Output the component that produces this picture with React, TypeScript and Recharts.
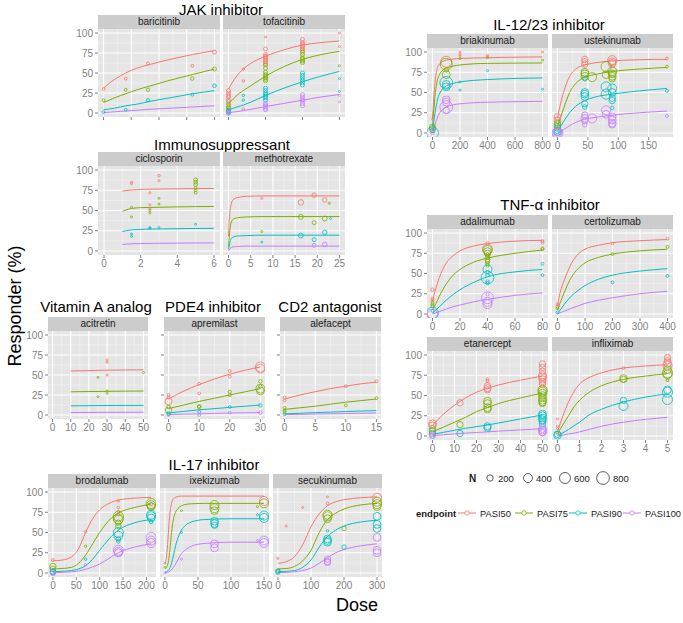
import React from 'react';
import { ComposedChart, Line, Scatter, XAxis, YAxis, CartesianGrid, ReferenceLine } from 'recharts';

const FONT = '"Liberation Sans", Arial, Helvetica, sans-serif';
const COLORS = ['#F8766D', '#7CAE00', '#00BFC4', '#C77CFF'];
const ENDPOINTS = ['PASI50', 'PASI75', 'PASI90', 'PASI100'];
const Y_TICKS = [0, 25, 50, 75, 100];
const Y_MINOR = [12.5, 37.5, 62.5, 87.5];
const N_LEGEND = [200, 400, 600, 800];

// ---------- baricitinib ----------
const bariDose = [0, 0.5, 1, 2, 3, 4, 6, 8, 10];
const bariP50 = [31, 37, 42, 50, 56, 60, 67, 73, 78];
const bariP75 = [13, 16, 19, 24, 29, 33, 41, 48, 55];
const bariP90 = [4, 5, 6, 9, 11, 14, 19, 24, 28];
const bariP100 = [0.5, 1, 1.5, 2.5, 3.5, 4.5, 6, 7.5, 9];
const bariPts = [
  [0, 30, 40, 0], [2, 43, 40, 0], [4, 62, 40, 0], [8, 59, 40, 0], [10, 76, 80, 0],
  [0, 16, 40, 1], [2, 29, 40, 1], [4, 29, 60, 1], [8, 43, 60, 1], [10, 55, 80, 1],
  [0, 1, 40, 2], [2, 4, 40, 2], [4, 16, 60, 2], [8, 23, 40, 2], [10, 34, 70, 2],
];
const bariTicks = [0, 2.5, 5, 7.5, 10];

// ---------- tofacitinib ----------
const tofaDose = [0, 0.5, 1, 2, 3, 5, 7.5, 10, 12.5, 15];
const tofaP50 = [30, 38, 45, 55, 62, 71, 79, 85, 88, 90];
const tofaP75 = [12, 16, 21, 28, 34, 46, 58, 67, 73, 77];
const tofaP90 = [4, 5.5, 7, 10, 13.5, 22, 31, 39, 46, 52];
const tofaP100 = [0, 1, 1.5, 3, 4.5, 8, 12, 16, 20, 23];
const tofaPts = [
  [0, 28, 80, 0], [0, 25, 80, 0], [0, 22, 80, 0], [0, 20, 80, 0], [0, 16, 80, 0], [0, 14, 80, 0],
  [0, 11, 80, 1], [0, 8, 80, 1], [0, 6, 80, 1], [0, 4, 80, 1],
  [0, 3, 80, 2], [0, 2, 80, 2], [0, 1, 80, 2], [0, 0, 80, 2], [0, 1, 80, 3], [0, 0, 80, 3],
  [2, 55, 30, 0], [2, 40, 30, 0], [2, 22, 30, 2], [2, 16, 30, 2], [2, 5, 30, 3],
  [5, 95, 20, 0], [5, 80, 80, 0], [5, 73, 80, 0], [5, 71, 80, 0], [5, 70, 80, 0], [5, 68, 80, 0], [5, 66, 80, 0], [5, 64, 80, 0], [5, 62, 80, 0],
  [5, 60, 80, 1], [5, 56, 80, 1], [5, 51, 80, 1], [5, 48, 80, 1], [5, 46, 80, 1], [5, 44, 80, 1], [5, 42, 80, 1], [5, 40, 80, 1],
  [5, 31, 80, 2], [5, 28, 80, 2], [5, 25, 80, 2], [5, 23, 80, 2], [5, 21, 80, 2], [5, 19, 80, 2], [5, 16, 80, 2],
  [5, 12, 80, 3], [5, 10, 80, 3], [5, 8, 80, 3], [5, 6, 80, 3], [5, 4, 80, 3],
  [10, 92, 80, 0], [10, 88, 80, 0], [10, 86, 80, 0], [10, 84, 80, 0], [10, 82, 80, 0], [10, 80, 80, 0], [10, 78, 80, 0],
  [10, 76, 80, 1], [10, 73, 80, 1], [10, 69, 80, 1], [10, 67, 80, 1], [10, 65, 80, 1], [10, 63, 80, 1],
  [10, 50, 80, 2], [10, 47, 80, 2], [10, 44, 80, 2], [10, 41, 80, 2], [10, 38, 80, 2], [10, 35, 80, 2],
  [10, 23, 80, 3], [10, 20, 80, 3], [10, 17, 80, 3], [10, 15, 80, 3], [10, 12, 80, 3], [10, 9, 80, 3],
  [15, 100, 20, 0], [15, 83, 20, 0], [15, 59, 20, 1], [15, 43, 20, 2], [15, 27, 20, 2], [15, 22, 20, 3], [15, 14, 20, 3],
];
const tofaTicks = [0, 5, 10, 15];

// ---------- ciclosporin ----------
const cicDose = [1, 1.25, 1.5, 2, 3, 4, 5, 6];
const cicP50 = [74, 74.8, 75.3, 76, 76.5, 76.8, 77, 77.2];
const cicP75 = [49, 51, 52.5, 53.5, 54, 54.5, 54.8, 55];
const cicP90 = [24, 25.2, 26, 26.7, 27.2, 27.5, 27.8, 28];
const cicP100 = [8, 8.5, 8.8, 9.2, 9.5, 9.7, 9.9, 10];
const cicPts = [
  [1.5, 85, 20, 0], [1.5, 83, 20, 0], [1.5, 54, 20, 1], [1.5, 42, 20, 1], [1.5, 21, 20, 2], [1.5, 18, 20, 2],
  [2.5, 72, 20, 0], [2.5, 57, 20, 0], [2.5, 52, 20, 0], [2.5, 50, 20, 1], [2.5, 47, 20, 1], [2.5, 29, 20, 2], [2.5, 28, 20, 2],
  [3, 93, 30, 0], [3, 87, 20, 0], [3, 65, 20, 1], [3, 58, 20, 1], [3, 29, 20, 2],
  [5, 88, 70, 1], [5, 85, 70, 1], [5, 82, 70, 1], [5, 78, 40, 1], [5, 75, 40, 1], [5, 72, 40, 1], [5, 33, 20, 2],
];
const cicTicks = [0, 2, 4, 6];

// ---------- methotrexate ----------
const mtxDose = [0, 0.1, 0.25, 0.5, 1, 2, 4, 8, 15, 25];
const mtxP50 = [18, 32, 45, 56, 63, 66, 67.5, 68, 68, 68];
const mtxP75 = [5, 13, 23, 33, 39, 41, 42, 42.5, 42.5, 42.5];
const mtxP90 = [2, 5, 9, 14, 17, 18.5, 19, 19.5, 19.5, 19.5];
const mtxP100 = [0, 1, 2.5, 4, 5, 5.5, 6, 6, 6, 6];
const mtxPts = [
  [7.5, 65, 20, 0], [7.5, 24, 20, 1], [7.5, 11, 20, 2],
  [16.3, 60, 150, 0], [16.3, 42, 120, 1], [16.3, 19, 120, 2],
  [19.3, 69, 100, 0], [19.3, 35, 80, 1], [19.3, 14, 80, 2], [19.3, 7, 80, 3],
  [21.7, 63, 100, 0], [21.7, 40, 120, 1], [21.7, 23, 100, 2], [21.7, 8, 100, 3],
  [22.7, 59, 25, 1], [23, 40, 20, 2],
];
const mtxTicks = [0, 5, 10, 15, 20, 25];

// ---------- acitretin ----------
const aciDose = [10, 20, 30, 40, 50];
const aciP50 = [55, 55.5, 56, 56.3, 56.5];
const aciP75 = [29, 29.3, 29.6, 29.8, 30];
const aciP90 = [11.5, 11.7, 11.9, 12, 12];
const aciP100 = [3, 3.2, 3.3, 3.4, 3.5];
const aciPts = [
  [25, 47, 20, 1], [25, 23, 20, 1], [30, 69, 20, 0], [30, 66, 20, 0], [30, 50, 20, 0],
  [30, 30, 20, 1], [30, 27, 20, 1], [50, 53, 20, 1],
];
const aciTicks = [0, 10, 20, 30, 40, 50];

// ---------- apremilast ----------
const aprDose = [0, 5, 10, 15, 20, 25, 30];
const aprP50 = [20, 30, 38, 45, 51, 56, 60];
const aprP75 = [8, 12.5, 17, 21, 25, 29, 33];
const aprP90 = [2.5, 4.5, 6.5, 8, 9.5, 11, 12.5];
const aprP100 = [0.5, 1, 1.5, 2, 2.5, 2.8, 3];
const aprPts = [
  [0, 25, 40, 0], [0, 22, 40, 0], [0, 17, 250, 0], [0, 10, 60, 1], [0, 6, 200, 1], [0, 2, 60, 2], [0, 1, 40, 2], [0, 0, 40, 3],
  [10, 39, 40, 0], [10, 27, 40, 0], [10, 11, 60, 1], [10, 10, 60, 1], [10, 4, 40, 2], [10, 0, 40, 3],
  [20, 55, 40, 0], [20, 48, 40, 0], [20, 29, 50, 1], [20, 25, 50, 1], [20, 10, 40, 2], [20, 3, 40, 3],
  [30, 60, 500, 0], [30, 58, 400, 0], [30, 42, 60, 1], [30, 36, 60, 1], [30, 33, 400, 1], [30, 30, 300, 1], [30, 12, 60, 2], [30, 3, 60, 3],
];
const aprTicks = [0, 10, 20, 30];

// ---------- alefacept ----------
const aleDose = [0, 2.5, 5, 7.5, 10, 12.5, 15];
const aleP50 = [20, 25, 29, 33, 36, 39, 41];
const aleP75 = [7, 9, 11, 13.5, 16, 18, 20];
const aleP90 = [1.5, 2.2, 3, 3.6, 4.3, 5, 5.5];
const aleP100 = [0.5, 0.8, 1.2, 1.5, 1.8, 2.2, 2.5];
const alePts = [
  [0, 22, 40, 0], [0, 18, 40, 0], [0, 9, 40, 1], [0, 6, 40, 1], [0, 4, 40, 1], [0, 1, 40, 2],
  [10, 36, 40, 0], [10, 12, 40, 1], [15, 42, 40, 0], [15, 21, 40, 1],
];
const aleTicks = [0, 5, 10, 15];

// ---------- brodalumab ----------
const broDose = [0, 20, 40, 55, 70, 85, 100, 120, 140, 175, 210];
const broP50 = [15, 16, 20, 30, 50, 67, 78, 86, 90, 92.5, 93.5];
const broP75 = [5, 5.5, 7, 12, 22, 36, 50, 65, 74, 81, 85];
const broP90 = [1.5, 2, 3, 5, 9, 17, 28, 42, 53, 62, 66];
const broP100 = [0.5, 0.8, 1.5, 2.5, 4.5, 7.5, 11, 18, 25, 32, 36];
const broPts = [
  [0, 16, 40, 0], [0, 8, 200, 1], [0, 5, 150, 1], [0, 2, 150, 2], [0, 1, 150, 2], [0, 0, 150, 3],
  [70, 51, 30, 0], [70, 33, 30, 1], [70, 17, 30, 2], [70, 10, 30, 3],
  [140, 89, 30, 0], [140, 81, 30, 0], [140, 76, 30, 0], [140, 72, 30, 0],
  [140, 70, 500, 1], [140, 67, 500, 1], [140, 66, 400, 1], [140, 62, 150, 1], [140, 58, 150, 1],
  [140, 50, 500, 2], [140, 46, 400, 2], [140, 42, 100, 2], [140, 39, 60, 2],
  [140, 28, 500, 3], [140, 26, 400, 3], [140, 25, 300, 3],
  [210, 85, 60, 0], [210, 86, 500, 1], [210, 84, 400, 1], [210, 82, 300, 1],
  [210, 72, 400, 2], [210, 70, 400, 2], [210, 68, 300, 2], [210, 63, 60, 2],
  [210, 44, 500, 3], [210, 40, 400, 3], [210, 37, 400, 3],
];
const broTicks = [0, 50, 100, 150, 200];

// ---------- ixekizumab ----------
const ixeDose = [0, 2, 4, 6, 8, 10, 13, 16, 20, 25, 30, 40, 60, 100, 150];
const ixeP50 = [12, 18, 35, 60, 77, 86, 92, 93.5, 94.5, 95, 95, 95, 95, 95, 95];
const ixeP75 = [5, 6.5, 10, 18, 33, 50, 67, 75, 80, 83, 84.5, 85.5, 86, 86, 86];
const ixeP90 = [1, 1.5, 2.5, 4, 7, 12, 22, 33, 44, 53, 58, 63, 66, 67, 67];
const ixeP100 = [0, 0.3, 0.8, 1.5, 2.5, 4, 7, 11, 17, 24, 28, 33, 36.5, 38, 38];
const ixePts = [
  [0, 12, 20, 0], [0, 7, 20, 1], [0, 0, 20, 3],
  [25, 77, 20, 1], [25, 50, 20, 2], [25, 17, 20, 3],
  [75, 84, 400, 1], [75, 80, 400, 1], [75, 77, 300, 1],
  [75, 64, 300, 2], [75, 61, 300, 2], [75, 59, 200, 2], [75, 36, 300, 3], [75, 31, 300, 3],
  [140, 82, 20, 1], [140, 72, 20, 2], [140, 40, 20, 3],
  [150, 89, 400, 0], [150, 86, 400, 1], [150, 71, 400, 2], [150, 68, 400, 2], [150, 40, 400, 3], [150, 37, 400, 3],
];
const ixeTicks = [0, 50, 100, 150];

// ---------- secukinumab ----------
const secDose = [0, 25, 50, 75, 100, 125, 150, 175, 200, 250, 300];
const secP50 = [12, 14, 20, 35, 57, 73, 83, 88, 90.5, 93, 94];
const secP75 = [5, 5.5, 8, 15, 28, 50, 66, 74, 79, 84, 86];
const secP90 = [1.5, 2, 3, 7, 16, 32, 45, 53, 58, 63, 65];
const secP100 = [0.5, 0.7, 1.5, 3, 6, 12, 19, 25, 29, 33.5, 36];
const secPts = [
  [0, 18, 20, 0], [0, 3, 60, 1], [0, 2, 100, 2], [0, 1, 100, 2],
  [25, 58, 20, 0], [75, 81, 20, 0],
  [150, 94, 20, 0], [150, 86, 40, 0], [150, 72, 400, 1], [150, 70, 400, 1], [150, 67, 300, 1],
  [150, 52, 30, 2], [150, 42, 300, 2], [150, 40, 300, 2], [150, 38, 300, 2],
  [150, 17, 200, 3], [150, 14, 200, 3], [150, 13, 200, 3],
  [200, 55, 100, 1], [200, 32, 100, 2],
  [300, 93, 400, 0], [300, 88, 400, 1], [300, 85, 400, 1], [300, 82, 300, 1],
  [300, 70, 300, 2], [300, 60, 300, 2], [300, 55, 300, 2],
  [300, 44, 300, 3], [300, 28, 300, 3], [300, 25, 300, 3],
];
const secTicks = [0, 100, 200, 300];

// ---------- briakinumab ----------
const briDose = [0, 5, 10, 25, 50, 100, 200, 400, 800];
const briP50 = [17, 32, 45, 72, 85, 90, 92, 93, 94];
const briP75 = [8, 19, 30, 55, 72, 80, 84, 86, 86.5];
const briP90 = [3, 9, 15, 32, 48, 58, 63, 66, 68];
const briP100 = [0, 3, 6, 14, 24, 32, 36, 38, 39];
const briPts = [
  [0, 0, 700, 2], [0, 17, 20, 0], [0, 7, 200, 1], [0, 5, 200, 1], [0, 3, 100, 2], [0, 1, 100, 3],
  [100, 88, 600, 0], [100, 85, 700, 1], [100, 78, 100, 1], [100, 72, 300, 1],
  [100, 62, 800, 2], [100, 60, 300, 2], [100, 57, 300, 2],
  [100, 41, 300, 3], [100, 38, 300, 3], [100, 32, 800, 3], [100, 28, 200, 3],
  [200, 100, 20, 0], [200, 97, 20, 0], [200, 95, 20, 0], [200, 92, 20, 1], [200, 63, 20, 2], [200, 53, 20, 2],
  [400, 96, 20, 0], [400, 94, 20, 0], [400, 93, 20, 1], [400, 77, 20, 2],
  [800, 100, 20, 0], [800, 90, 20, 1], [800, 54, 20, 2],
];
const briTicks = [0, 200, 400, 600, 800];

// ---------- ustekinumab ----------
const ustDose = [0, 5, 10, 20, 30, 45, 60, 90, 135, 180];
const ustP50 = [18, 36, 50, 70, 79, 84, 86.5, 89, 90.5, 91];
const ustP75 = [8, 19, 30, 50, 61, 69, 72, 76, 79, 81];
const ustP90 = [3, 8, 14, 25, 33, 40, 44, 48, 52, 55];
const ustP100 = [0, 2, 4, 9, 13, 17, 19, 22, 25, 27];
const ustPts = [
  [0, 20, 200, 0], [0, 16, 200, 0], [0, 12, 200, 1], [0, 10, 200, 1], [0, 8, 200, 1],
  [0, 6, 200, 2], [0, 3, 200, 2], [0, 2, 300, 2], [0, 0, 400, 3], [0, 0, 600, 3], [0, 1, 300, 3],
  [45, 91, 200, 0], [45, 88, 200, 0], [45, 85, 200, 0], [45, 75, 300, 1], [45, 73, 300, 1], [45, 70, 300, 1],
  [45, 67, 100, 2], [45, 50, 300, 2], [45, 48, 300, 2], [45, 45, 300, 2], [45, 36, 200, 2], [45, 32, 100, 2],
  [45, 22, 200, 3], [45, 18, 300, 3], [45, 15, 200, 3], [45, 10, 100, 3],
  [57, 69, 400, 1], [57, 18, 400, 3],
  [80, 82, 500, 1], [80, 72, 300, 1], [80, 57, 500, 2], [80, 48, 500, 2], [80, 28, 400, 3], [80, 23, 300, 3],
  [90, 90, 400, 0], [90, 88, 300, 0], [90, 86, 300, 0], [90, 76, 400, 1], [90, 73, 300, 1], [90, 70, 300, 1], [90, 67, 200, 1],
  [90, 55, 400, 2], [90, 50, 300, 2], [90, 43, 200, 2], [90, 40, 200, 2], [90, 31, 60, 2],
  [90, 20, 300, 3], [90, 16, 300, 3], [90, 12, 300, 3], [90, 10, 200, 3],
  [180, 92, 40, 0], [180, 82, 40, 1], [180, 52, 40, 2], [180, 21, 40, 3],
];
const ustTicks = [0, 50, 100, 150];

// ---------- adalimumab ----------
const adaDose = [0, 2.5, 5, 10, 15, 20, 30, 40, 60, 80];
const adaP50 = [16, 32, 45, 63, 72, 78, 84, 87, 90, 91];
const adaP75 = [5, 13, 22, 37, 48, 55, 64, 69, 75, 79];
const adaP90 = [1, 5, 9, 17, 24, 30, 39, 46, 52, 55];
const adaP100 = [0, 1.5, 3, 6, 9, 11, 15, 18, 23, 26];
const adaPts = [
  [0, 30, 60, 0], [0, 19, 40, 0], [0, 17, 40, 0], [0, 14, 40, 1], [0, 12, 40, 1], [0, 10, 40, 1],
  [0, 4, 40, 2], [0, 1, 700, 2], [0, 0, 500, 3],
  [40, 87, 60, 0], [40, 80, 500, 0], [40, 79, 400, 1],
  [40, 77, 300, 1], [40, 75, 200, 1], [40, 73, 100, 1], [40, 70, 100, 1], [40, 67, 100, 1], [40, 65, 100, 1], [40, 62, 60, 1], [40, 60, 60, 1],
  [40, 55, 400, 2], [40, 52, 60, 2], [40, 48, 60, 2], [40, 45, 800, 2], [40, 40, 60, 2], [40, 38, 60, 2],
  [40, 24, 40, 3], [40, 20, 700, 3], [40, 15, 400, 3], [40, 12, 400, 3],
  [80, 90, 40, 0], [80, 88, 40, 0], [80, 81, 40, 1], [80, 80, 40, 1], [80, 62, 40, 2], [80, 48, 40, 2],
];
const adaTicks = [0, 20, 40, 60, 80];

// ---------- certolizumab ----------
const cerDose = [0, 10, 25, 50, 75, 100, 150, 200, 300, 400];
const cerP50 = [10, 27, 42, 62, 74, 80, 85, 88, 90.5, 92];
const cerP75 = [5, 14, 27, 45, 56, 63, 70, 74, 78, 80];
const cerP90 = [1, 5, 12, 22, 29, 35, 43, 48, 53, 56];
const cerP100 = [0, 1.5, 3.5, 7, 10, 13, 17, 20, 25, 28];
const cerPts = [
  [0, 12, 40, 0], [0, 9, 40, 0], [0, 7, 40, 1], [0, 2, 40, 2],
  [200, 87, 40, 0], [200, 74, 40, 1], [200, 39, 40, 2],
  [400, 93, 40, 0], [400, 83, 40, 1], [400, 47, 40, 2],
];
const cerTicks = [0, 100, 200, 300, 400];

// ---------- etanercept ----------
const etaDose = [0, 5, 10, 15, 20, 25, 30, 40, 50];
const etaP50 = [13, 27, 38, 47, 54, 59, 63, 69, 74];
const etaP75 = [5, 11, 17, 23, 30, 35, 40, 47, 53];
const etaP90 = [2, 4.5, 7, 9.5, 11.5, 13.5, 16, 21, 26];
const etaP100 = [0.5, 1.5, 2.5, 3.5, 4.3, 5, 6, 7.5, 9];
const etaPts = [
  [0, 15, 300, 0], [0, 13, 250, 0], [0, 9, 200, 1], [0, 6, 200, 1], [0, 3, 200, 2], [0, 1, 200, 3], [0, 0, 150, 3],
  [12.5, 41, 200, 0], [12.5, 14, 200, 1], [12.5, 3, 200, 2],
  [25, 70, 40, 0], [25, 68, 40, 0], [25, 62, 200, 0], [25, 59, 250, 0], [25, 57, 200, 0],
  [25, 43, 300, 1], [25, 40, 300, 1], [25, 35, 300, 1], [25, 33, 250, 1], [25, 12, 250, 2], [25, 10, 250, 2],
  [50, 89, 200, 0], [50, 85, 200, 0], [50, 80, 200, 0], [50, 75, 300, 0], [50, 73, 300, 0], [50, 70, 250, 0], [50, 67, 200, 0], [50, 64, 200, 0],
  [50, 57, 400, 1], [50, 55, 400, 1], [50, 53, 300, 1], [50, 50, 300, 1], [50, 47, 300, 1], [50, 44, 300, 1], [50, 42, 300, 1], [50, 40, 200, 1],
  [50, 27, 300, 2], [50, 25, 300, 2], [50, 22, 300, 2], [50, 20, 300, 2], [50, 18, 200, 2], [50, 15, 200, 2],
  [50, 9, 300, 3], [50, 7, 300, 3], [50, 5, 300, 3], [50, 4, 200, 3],
];
const etaTicks = [0, 10, 20, 30, 40, 50];

// ---------- infliximab ----------
const infDose = [0, 0.25, 0.5, 0.75, 1, 1.5, 2, 3, 4, 5];
const infP50 = [5, 25, 42, 55, 64, 73, 78, 84, 86.5, 88];
const infP75 = [3, 14, 25, 36, 44, 55, 62, 70, 74, 77];
const infP90 = [1, 4, 8, 12.5, 17, 27, 33, 42, 48, 52];
const infP100 = [0, 1, 2.5, 3.5, 5, 8.5, 12, 17, 20.5, 23];
const infPts = [
  [0, 21, 20, 0], [0, 12, 20, 0], [0, 9, 20, 0], [0, 4, 40, 1], [0, 2, 200, 2], [0, 1, 300, 2],
  [3, 84, 40, 0], [3, 71, 300, 1], [3, 70, 200, 1], [3, 44, 200, 2], [3, 37, 400, 2],
  [5, 97, 200, 0], [5, 93, 200, 0], [5, 90, 300, 0], [5, 87, 400, 0],
  [5, 82, 300, 1], [5, 78, 500, 1], [5, 76, 400, 1], [5, 69, 40, 1],
  [5, 57, 300, 2], [5, 54, 500, 2], [5, 45, 500, 2],
];
const infTicks = [0, 1, 2, 3, 4, 5];

type PanelCfg = {
  name: string; left: number; top: number; w: number; h: number;
  xDomain: [number, number]; xTicks: number[]; yMode: 'labels' | 'ticks' | 'none'; xLabels: boolean;
  dose: number[]; curves: number[][]; pts: number[][];
};

const PANELS: PanelCfg[] = [
  { name: 'baricitinib', left: 98, top: 29, w: 122, h: 88, xDomain: [-0.5, 10.5], xTicks: bariTicks, yMode: 'labels', xLabels: false, dose: bariDose, curves: [bariP50, bariP75, bariP90, bariP100], pts: bariPts },
  { name: 'tofacitinib', left: 223, top: 29, w: 122, h: 88, xDomain: [-0.75, 15.75], xTicks: tofaTicks, yMode: 'none', xLabels: false, dose: tofaDose, curves: [tofaP50, tofaP75, tofaP90, tofaP100], pts: tofaPts },
  { name: 'ciclosporin', left: 98, top: 166, w: 122, h: 89, xDomain: [-0.33, 6.33], xTicks: cicTicks, yMode: 'labels', xLabels: true, dose: cicDose, curves: [cicP50, cicP75, cicP90, cicP100], pts: cicPts },
  { name: 'methotrexate', left: 223, top: 166, w: 122, h: 89, xDomain: [-1.25, 26.25], xTicks: mtxTicks, yMode: 'none', xLabels: true, dose: mtxDose, curves: [mtxP50, mtxP75, mtxP90, mtxP100], pts: mtxPts },
  { name: 'acitretin', left: 48, top: 331, w: 100, h: 88, xDomain: [-2.5, 52.5], xTicks: aciTicks, yMode: 'labels', xLabels: true, dose: aciDose, curves: [aciP50, aciP75, aciP90, aciP100], pts: aciPts },
  { name: 'apremilast', left: 164, top: 331, w: 101, h: 88, xDomain: [-1.5, 31.5], xTicks: aprTicks, yMode: 'ticks', xLabels: true, dose: aprDose, curves: [aprP50, aprP75, aprP90, aprP100], pts: aprPts },
  { name: 'alefacept', left: 280, top: 331, w: 101, h: 88, xDomain: [-0.75, 15.75], xTicks: aleTicks, yMode: 'ticks', xLabels: true, dose: aleDose, curves: [aleP50, aleP75, aleP90, aleP100], pts: alePts },
  { name: 'brodalumab', left: 48, top: 488, w: 108, h: 89, xDomain: [-10.5, 220.5], xTicks: broTicks, yMode: 'labels', xLabels: true, dose: broDose, curves: [broP50, broP75, broP90, broP100], pts: broPts },
  { name: 'ixekizumab', left: 160, top: 488, w: 109, h: 89, xDomain: [-7.5, 157.5], xTicks: ixeTicks, yMode: 'none', xLabels: true, dose: ixeDose, curves: [ixeP50, ixeP75, ixeP90, ixeP100], pts: ixePts },
  { name: 'secukinumab', left: 273, top: 488, w: 109, h: 89, xDomain: [-15, 315], xTicks: secTicks, yMode: 'none', xLabels: true, dose: secDose, curves: [secP50, secP75, secP90, secP100], pts: secPts },
  { name: 'briakinumab', left: 427, top: 48, w: 121, h: 89, xDomain: [-40, 840], xTicks: briTicks, yMode: 'labels', xLabels: true, dose: briDose, curves: [briP50, briP75, briP90, briP100], pts: briPts },
  { name: 'ustekinumab', left: 552, top: 48, w: 121, h: 89, xDomain: [-9, 190], xTicks: ustTicks, yMode: 'none', xLabels: true, dose: ustDose, curves: [ustP50, ustP75, ustP90, ustP100], pts: ustPts },
  { name: 'adalimumab', left: 427, top: 229, w: 121, h: 89, xDomain: [-4, 84], xTicks: adaTicks, yMode: 'labels', xLabels: true, dose: adaDose, curves: [adaP50, adaP75, adaP90, adaP100], pts: adaPts },
  { name: 'certolizumab', left: 552, top: 229, w: 121, h: 89, xDomain: [-20, 420], xTicks: cerTicks, yMode: 'none', xLabels: true, dose: cerDose, curves: [cerP50, cerP75, cerP90, cerP100], pts: cerPts },
  { name: 'etanercept', left: 427, top: 351, w: 121, h: 89, xDomain: [-2.5, 52.5], xTicks: etaTicks, yMode: 'labels', xLabels: true, dose: etaDose, curves: [etaP50, etaP75, etaP90, etaP100], pts: etaPts },
  { name: 'infliximab', left: 552, top: 351, w: 121, h: 89, xDomain: [-0.25, 5.25], xTicks: infTicks, yMode: 'none', xLabels: true, dose: infDose, curves: [infP50, infP75, infP90, infP100], pts: infPts },
];

const TITLES = [
  { text: 'JAK inhibitor', cx: 221, cy: 10 },
  { text: 'Immunosuppressant', cx: 222, cy: 145 },
  { text: 'Vitamin A analog', cx: 96, cy: 307 },
  { text: 'PDE4 inhibitor', cx: 213, cy: 307 },
  { text: 'CD2 antagonist', cx: 330, cy: 307 },
  { text: 'IL-17 inhibitor', cx: 214, cy: 465 },
  { text: 'IL-12/23 inhibitor', cx: 549, cy: 25 },
  { text: 'TNF-\u03b1 inhibitor', cx: 550, cy: 205 },
];

const radiusOf = (n: number) => Math.max(0.9, 0.225 * Math.sqrt(n));

const makeShape = (color: string) => (props: any) => {
  const { cx, cy, payload } = props;
  if (cx == null || cy == null || !payload) return <g />;
  return <circle cx={cx} cy={cy} r={radiusOf(payload.n)} fill="none" stroke={color} strokeWidth={0.8} />;
};

const midpoints = (t: number[]) => t.slice(1).map((v, i) => (v + t[i]) / 2);

const EXTRA_R = 14;

function Panel({ cfg }: { cfg: PanelCfg }) {
  const { name, left, top, w, h, xDomain, xTicks, yMode, xLabels, dose, curves, pts } = cfg;
  const yW = yMode === 'labels' ? 26 : yMode === 'ticks' ? 4 : 0;
  const xH = 18;
  const curveData = curves.map((arr) => dose.map((d, i) => ({ x: d, y: arr[i] })));
  const ptsData = [0, 1, 2, 3].map((k) => pts.filter((p) => p[3] === k).map((p) => ({ x: p[0], y: p[1], n: p[2] })));
  const xMinor = midpoints(xTicks);
  return (
    <div style={{ position: 'absolute', left: left - yW, top: top - 14, width: w + yW, height: h + xH + 14 }}>
      <div style={{ position: 'absolute', left: yW, top: 0, width: w, height: 14, background: '#CCCCCC', color: '#1A1A1A', fontSize: 10, lineHeight: '14px', textAlign: 'center', whiteSpace: 'nowrap' }}>{name}</div>
      <div style={{ position: 'absolute', left: 0, top: 14 }}>
        <ComposedChart width={w + yW + EXTRA_R} height={h + xH} margin={{ top: 0, right: EXTRA_R, bottom: 0, left: 0 }}>
          <CartesianGrid fill="#E5E5E5" horizontal={false} vertical={false} stroke="none" />
          {Y_MINOR.map((v) => <ReferenceLine key={'ym' + v} y={v} stroke="#F2F2F2" strokeWidth={0.6} />)}
          {xMinor.map((v) => <ReferenceLine key={'xm' + v} x={v} stroke="#F2F2F2" strokeWidth={0.6} />)}
          {Y_TICKS.map((v) => <ReferenceLine key={'yM' + v} y={v} stroke="#FFFFFF" strokeWidth={1.1} />)}
          {xTicks.map((v) => <ReferenceLine key={'xM' + v} x={v} stroke="#FFFFFF" strokeWidth={1.1} />)}
          <XAxis type="number" dataKey="x" domain={xDomain} ticks={xTicks} allowDataOverflow interval={0}
            axisLine={false} tickSize={3} tickMargin={2} height={xH}
            tickLine={{ stroke: '#7F7F7F' }} tick={{ fontSize: 10, fill: '#7F7F7F', fontFamily: FONT }}
            tickFormatter={xLabels ? (v: number) => String(v) : () => ''} />
          <YAxis type="number" domain={[-5, 105]} ticks={Y_TICKS} allowDataOverflow interval={0}
            hide={yMode === 'none'} width={yW || 1} axisLine={false} tickSize={3} tickMargin={2}
            tickLine={{ stroke: '#7F7F7F' }} tick={{ fontSize: 10, fill: '#7F7F7F', fontFamily: FONT }}
            tickFormatter={yMode === 'labels' ? (v: number) => String(v) : () => ''} />
          {curveData.map((d, k) => (
            <Line key={'l' + k} data={d} dataKey="y" type="monotone" stroke={COLORS[k]} strokeWidth={1}
              dot={false} activeDot={false} isAnimationActive={false} />
          ))}
          {ptsData.map((d, k) => (
            <Scatter key={'s' + k} data={d} dataKey="y" shape={makeShape(COLORS[k])} isAnimationActive={false} />
          ))}
        </ComposedChart>
      </div>
    </div>
  );
}

function Legends() {
  const nCx = [490, 528, 565, 603];
  const nTx = [498, 536, 574, 613];
  const kx = [467, 524, 578, 632];
  const tx = [480, 537, 591, 645];
  return (
    <svg width={683} height={623} style={{ position: 'absolute', left: 0, top: 0, pointerEvents: 'none' }}>
      <text x={469} y={482} fontSize={10} fontWeight="bold" fill="#1A1A1A" fontFamily={FONT}>N</text>
      {N_LEGEND.map((n, i) => (
        <g key={n}>
          <circle cx={nCx[i]} cy={478} r={radiusOf(n)} fill="none" stroke="#333" strokeWidth={0.8} />
          <text x={nTx[i]} y={482} fontSize={9.5} fill="#1A1A1A" fontFamily={FONT}>{n}</text>
        </g>
      ))}
      <text x={416} y={517} fontSize={9.5} fontWeight="bold" fill="#1A1A1A" fontFamily={FONT}>endpoint</text>
      {ENDPOINTS.map((e, i) => (
        <g key={e}>
          <line x1={kx[i] - 9} x2={kx[i] + 9} y1={513} y2={513} stroke={COLORS[i]} strokeWidth={1} />
          <circle cx={kx[i]} cy={513} r={2.2} fill="#fff" stroke={COLORS[i]} strokeWidth={0.8} />
          <text x={tx[i]} y={517} fontSize={9.3} fill="#1A1A1A" fontFamily={FONT}>{e}</text>
        </g>
      ))}
    </svg>
  );
}

export default function App() {
  return (
    <div style={{ position: 'absolute', left: 0, top: 0, width: 683, height: 623, background: '#FFFFFF', fontFamily: FONT, overflow: 'hidden' }}>
      {TITLES.map((t) => (
        <div key={t.text} style={{ position: 'absolute', left: t.cx - 100, top: t.cy - 9, width: 200, height: 18, lineHeight: '18px', textAlign: 'center', fontSize: 15, color: '#000' }}>{t.text}</div>
      ))}
      {PANELS.map((p) => <Panel key={p.name} cfg={p} />)}
      <div style={{ position: 'absolute', left: 307, top: 594, width: 100, height: 22, lineHeight: '22px', textAlign: 'center', fontSize: 18, color: '#000' }}>Dose</div>
      <div style={{ position: 'absolute', left: 15 - 70, top: 306 - 11, width: 140, height: 22, lineHeight: '22px', textAlign: 'center', fontSize: 18, color: '#000', transform: 'rotate(-90deg)' }}>Responder (%)</div>
      <Legends />
    </div>
  );
}
